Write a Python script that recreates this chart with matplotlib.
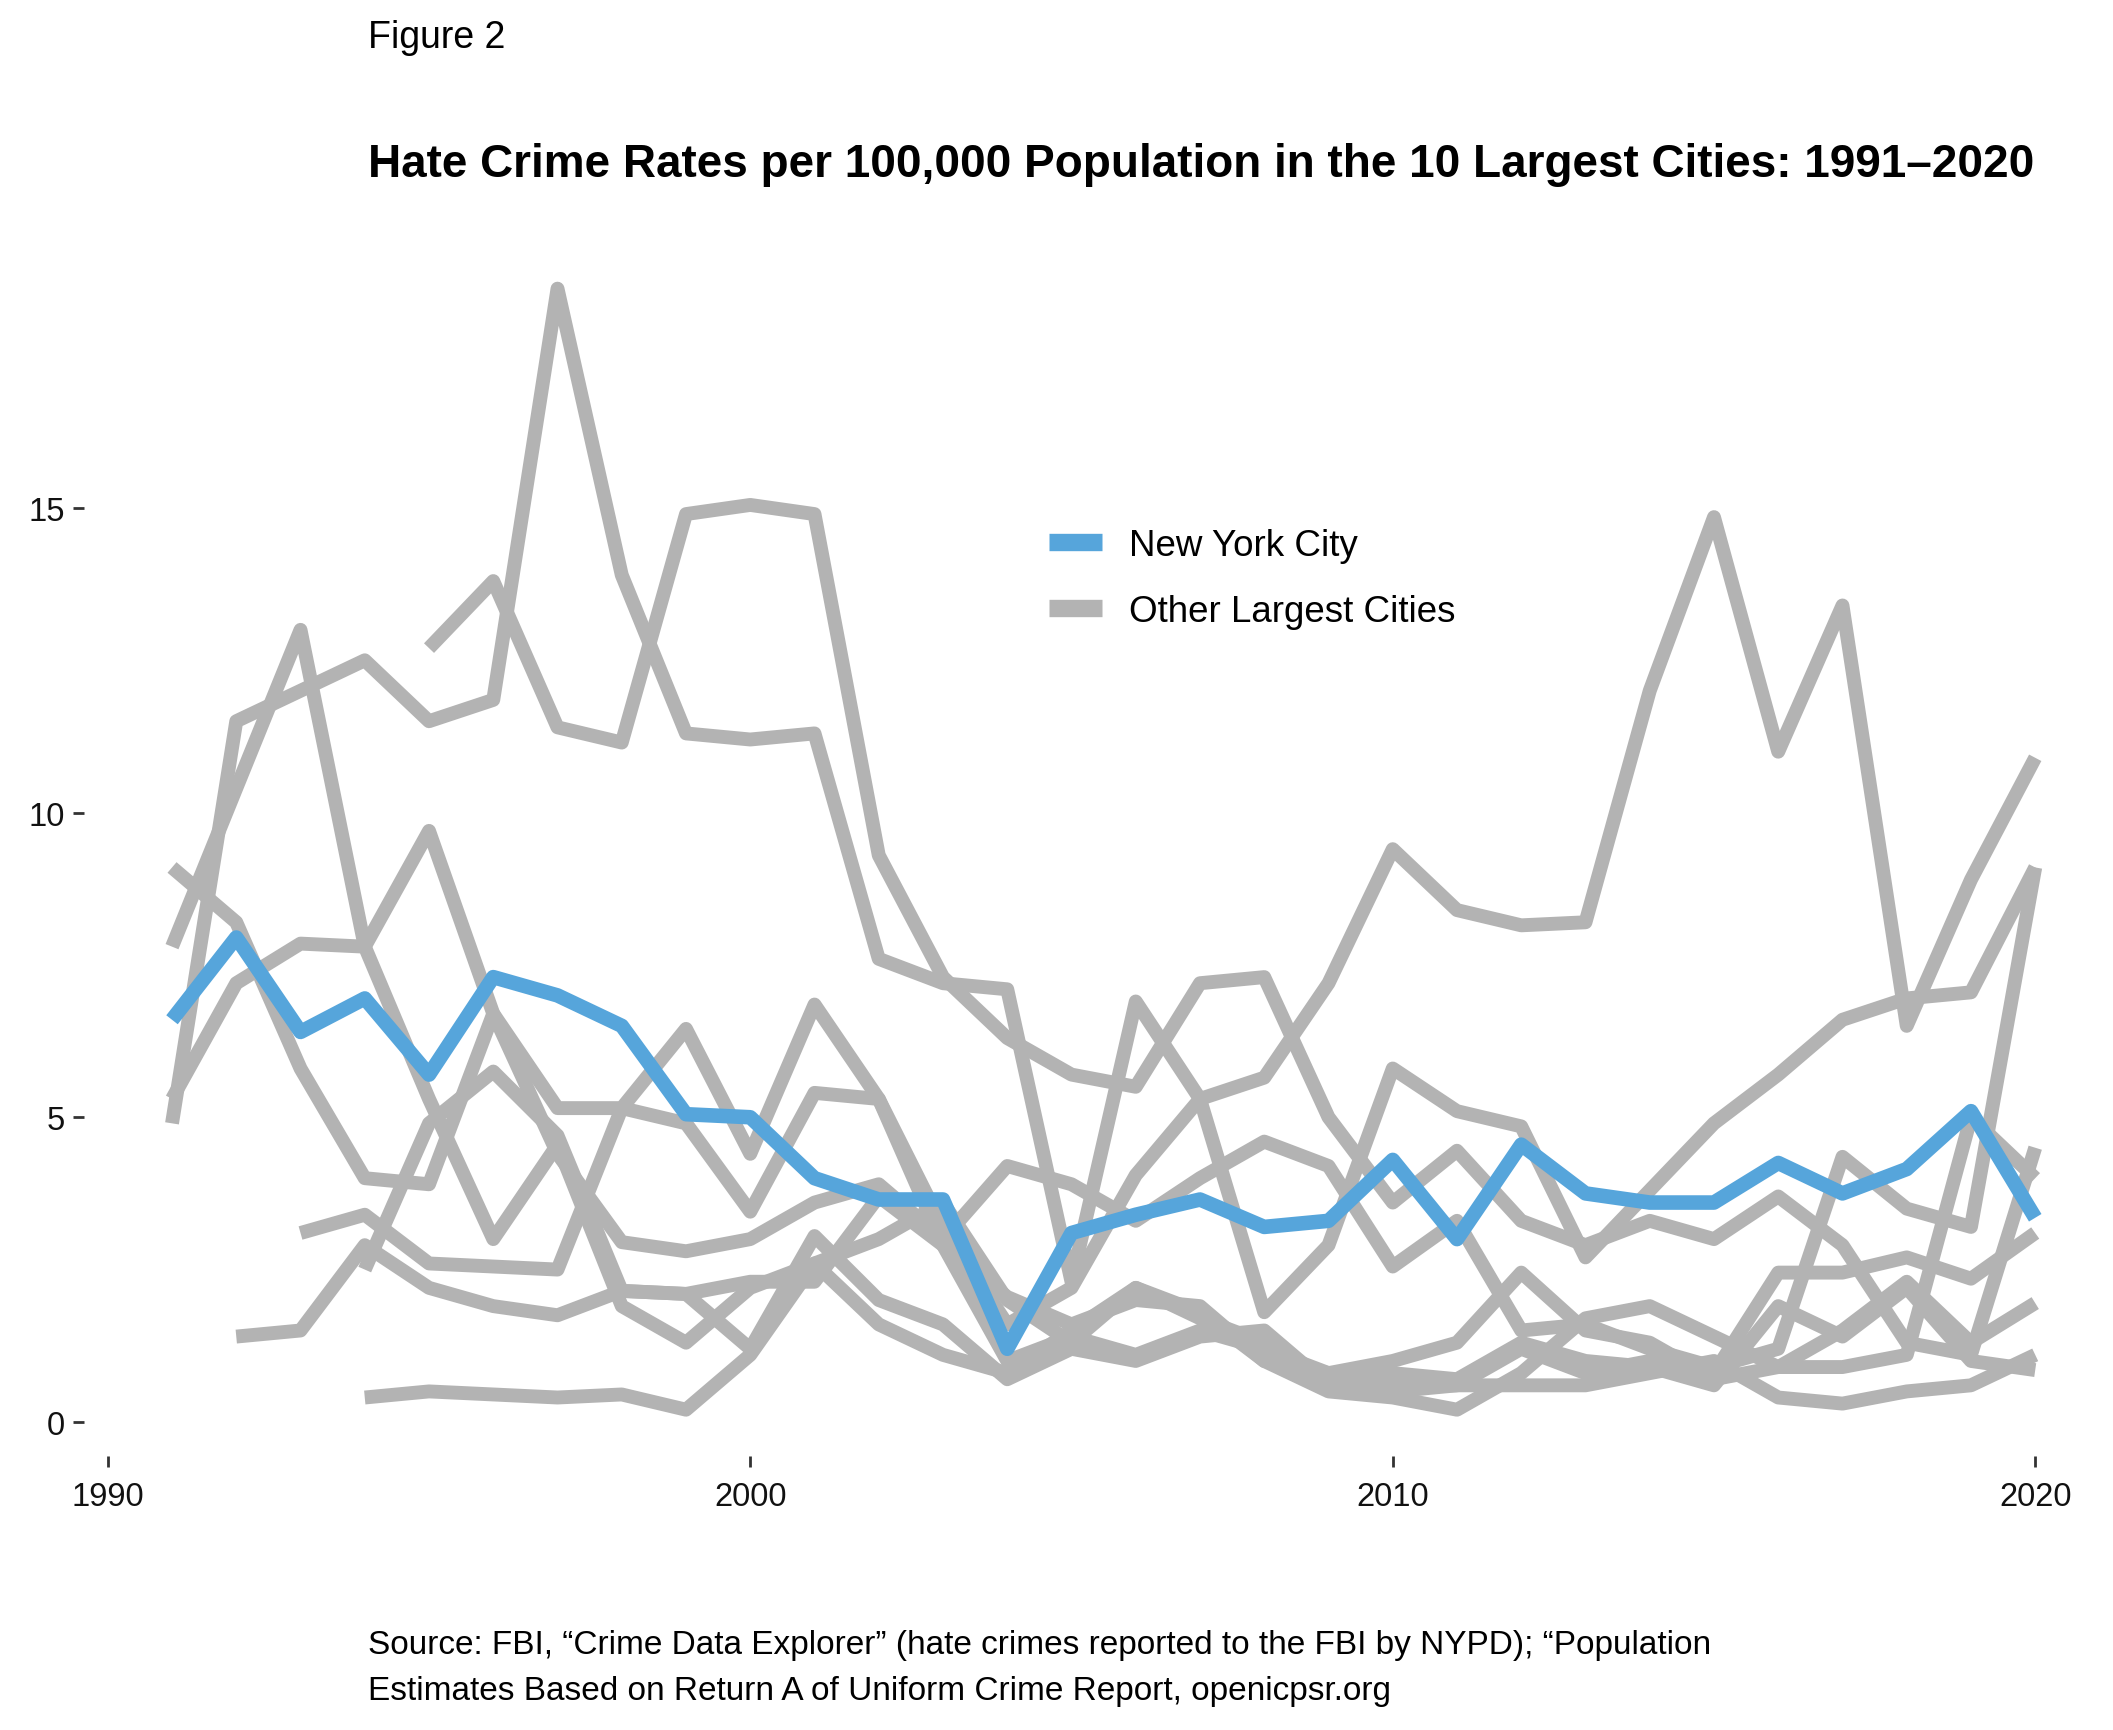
import numpy as np
import matplotlib
matplotlib.use("Agg")
import matplotlib.pyplot as plt
from matplotlib.lines import Line2D

plt.rcParams['font.family'] = ['Liberation Sans', 'DejaVu Sans']

nan = np.nan
years = list(range(1991, 2021))

nyc = [6.6, 7.95, 6.4, 6.95, 5.7, 7.3, 7.0, 6.5, 5.05, 5.0,
       4.0, 3.65, 3.65, 1.2, 3.1, 3.4, 3.65, 3.2, 3.3, 4.3,
       3.0, 4.55, 3.75, 3.6, 3.6, 4.25, 3.75, 4.15, 5.1, 3.35]

# the other nine of the ten largest cities
city_a = [4.9, 11.5, 12.0, 12.5, 11.5, 11.85, 18.6, 13.9, 11.3, 11.2,
          11.3, 7.6, 7.2, 7.1, 2.3, 6.9, 5.3, 1.8, 2.9, 5.8,
          5.1, 4.85, 2.7, 3.8, 4.9, 5.7, 6.6, 6.95, 7.05, 9.1]
city_b = [nan, nan, nan, nan, 12.7, 13.8, 11.4, 11.15, 14.9, 15.05,
          14.9, 9.3, 7.3, 6.3, 5.7, 5.5, 7.2, 7.3, 5.0, 3.6,
          4.45, 3.3, 2.9, 3.3, 3.0, 3.7, 2.9, 1.3, 1.1, 4.5]
city_c = [7.8, 10.4, 13.0, 7.8, 9.7, 6.7, 5.15, 5.15, 6.45, 4.4,
          6.85, 5.3, 3.2, 1.6, 2.2, 4.05, 5.3, 5.65, 7.2, 9.4,
          8.4, 8.15, 8.2, 12.0, 14.85, 11.0, 13.4, 6.5, 8.9, 10.9]
city_d = [9.1, 8.2, 5.8, 4.0, 3.9, 6.7, 4.4, 2.95, 2.8, 3.0,
          3.6, 3.9, 3.0, 4.2, 3.9, 3.3, 4.0, 4.6, 4.2, 2.55,
          3.3, 1.5, 1.6, 1.2, 0.9, 1.2, 4.35, 3.5, 3.2, 9.1]
city_e = [5.3, 7.2, 7.85, 7.8, 5.3, 3.0, 4.55, 1.9, 1.3, 2.2,
          2.6, 3.0, 3.6, 2.0, 1.3, 2.2, 1.8, 1.0, 0.5, 0.4,
          0.2, 0.8, 1.7, 1.9, 1.4, 0.9, 1.5, 2.3, 1.3, 1.95]
city_f = [nan, nan, 3.1, 3.4, 2.6, 2.55, 2.5, 5.15, 4.9, 3.45,
          5.4, 5.3, 2.9, 1.0, 1.4, 1.1, 1.5, 1.2, 0.8, 0.6,
          0.6, 1.2, 0.8, 1.0, 0.8, 2.45, 2.45, 2.7, 2.35, 3.1]
city_g = [nan, 1.4, 1.5, 2.9, 2.2, 1.9, 1.75, 2.15, 2.1, 1.2,
          3.05, 2.0, 1.6, 0.7, 1.2, 1.0, 1.4, 1.5, 0.6, 0.5,
          0.6, 0.6, 0.6, 0.8, 1.0, 0.4, 0.3, 0.5, 0.6, 1.1]
city_h = [nan, nan, nan, 0.4, 0.5, 0.45, 0.4, 0.45, 0.2, 1.1,
          2.6, 1.6, 1.1, 0.8, 1.5, 2.2, 1.7, 1.3, 0.7, 0.8,
          0.7, 1.3, 1.0, 0.9, 0.6, 1.9, 1.4, 2.2, 1.0, 0.85]
city_i = [nan, nan, nan, 2.5, 4.9, 5.75, 4.7, 2.15, 2.1, 2.3,
          2.3, 3.7, 2.9, 2.05, 1.6, 2.0, 1.9, 1.0, 0.8, 1.0,
          1.3, 2.45, 1.5, 1.3, 0.7, 0.9, 0.9, 1.1, 5.0, 4.0]
others = [city_a, city_b, city_c, city_d, city_e, city_f, city_g, city_h, city_i]

blue = "#56a5db"
grey = "#b3b3b3"

W, H = 2113, 1731
fig = plt.figure(figsize=(W / 100, H / 100), dpi=100)
ax = fig.add_axes([84 / W, 1 - 1457 / H, (2059 - 84) / W, (1457 - 247) / H])

for s in others:
    ax.plot(years, s, color=grey, lw=10, solid_joinstyle='round', solid_capstyle='butt')
ax.plot(years, nyc, color=blue, lw=10.5, solid_joinstyle='round', solid_capstyle='butt')

ax.set_xlim(1989.63, 2020.37)
ax.set_ylim(-0.56, 19.3)
ax.set_xticks([1990, 2000, 2010, 2020])
ax.set_yticks([0, 5, 10, 15])
for sp in ax.spines.values():
    sp.set_visible(False)
ax.tick_params(axis='both', length=8, width=2, color='#333333', labelsize=23.5, labelcolor='#111111', pad=6)
ax.tick_params(axis='x', pad=10)

handles = [Line2D([], [], color=blue, lw=12.5, solid_capstyle='butt'),
           Line2D([], [], color=grey, lw=12.5, solid_capstyle='butt')]
ax.legend(handles, ["New York City", "Other Largest Cities"], loc='upper left',
          bbox_to_anchor=(1034 / W, 1 - 514 / H), bbox_transform=fig.transFigure,
          frameon=False, fontsize=26.5, handlelength=1.45, handletextpad=0.72,
          labelspacing=0.84, borderaxespad=0)

fig.text(368 / W, 1 - 38 / H, "Figure 2", fontsize=27, va='center', ha='left')
fig.text(368 / W, 1 - 165 / H, "Hate Crime Rates per 100,000 Population in the 10 Largest Cities: 1991\u20132020",
         fontsize=33, fontweight='bold', va='center', ha='left')
fig.text(368 / W, 1 - 1646 / H,
         "Source: FBI, \u201cCrime Data Explorer\u201d (hate crimes reported to the FBI by NYPD); \u201cPopulation",
         fontsize=24, va='center', ha='left')
fig.text(368 / W, 1 - 1692 / H,
         "Estimates Based on Return A of Uniform Crime Report, openicpsr.org",
         fontsize=24, va='center', ha='left')

fig.savefig("out.png", dpi=100)
